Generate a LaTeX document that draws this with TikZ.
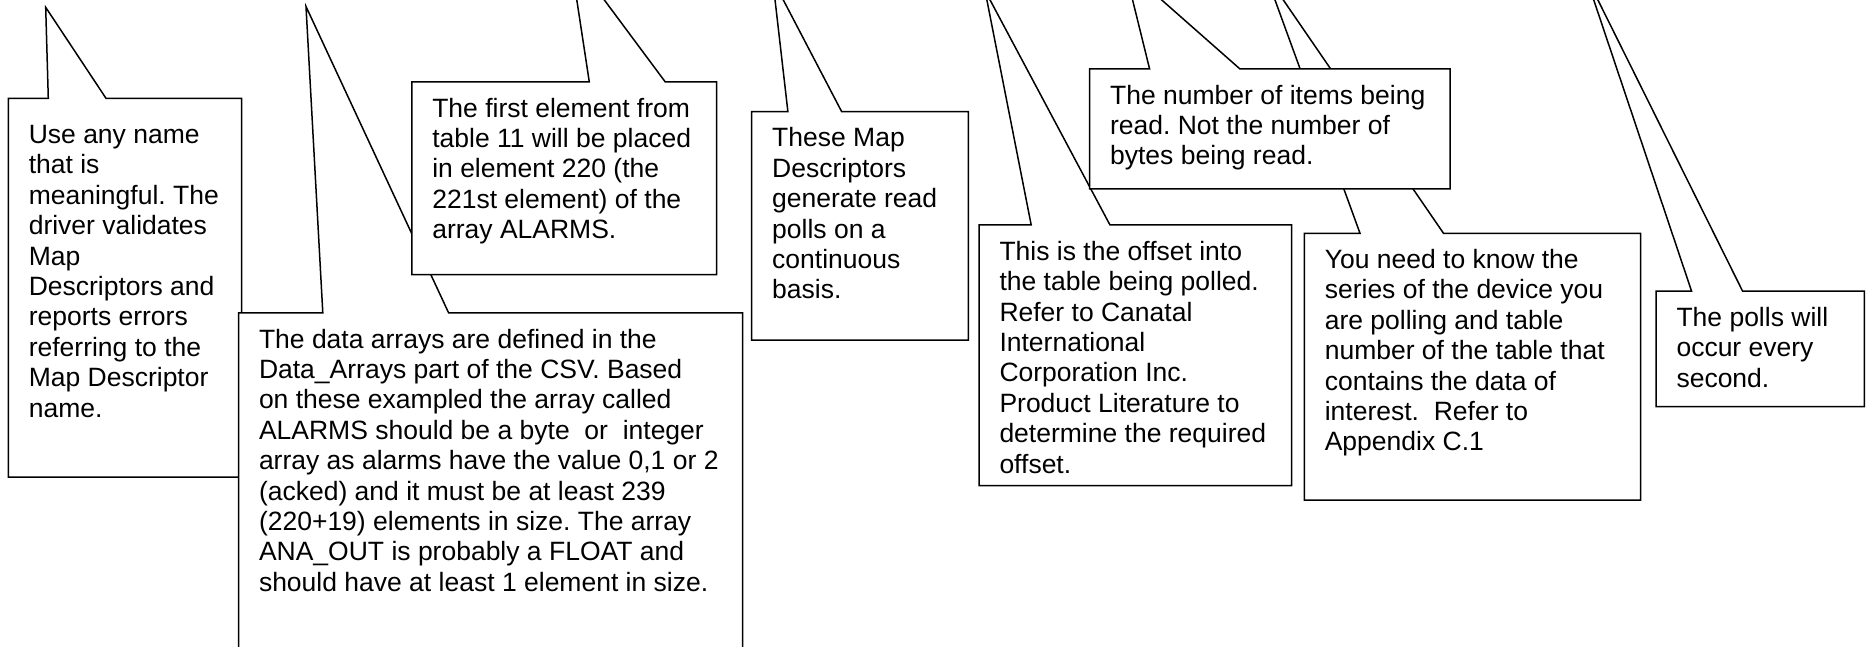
\documentclass[tikz,border=0pt]{standalone}
\usepackage{fontspec}
\setmainfont{Liberation Sans}
\frenchspacing
\begin{document}
\begin{tikzpicture}[x=1pt,y=-1pt,
  cbox/.style={draw=black,fill=white,line width=1.5pt,line join=miter},
  txt/.style={anchor=north west,inner sep=0pt,align=left,
    font=\frenchspacing\fontsize{26.5}{30.4}\selectfont}]
\newcommand\callout[8]{%
  \draw[cbox] (#1,#2) -- (#5,#2) -- (#7,#8) -- (#6,#2) -- (#3,#2) -- (#3,#4) -- (#1,#4) -- cycle;}
\newcommand\strt{\rule{0pt}{22pt}}
\useasboundingbox (0,0) rectangle (1866,647);
\clip (0,0) rectangle (1866,647);
\fill[white] (0,0) rectangle (1866,647);
% 1
\callout{8.3}{98.3}{241.7}{477}{48.3}{106}{45.7}{7.3}
\node[txt] (t1) at (28.6,121.3) {\strt Use any name\\that is\\meaningful. The\\driver validates\\Map\\Descriptors and\\reports errors\\referring to the\\Map Descriptor\\name.};
% 2
\callout{238.5}{312.8}{742.5}{700}{322.8}{448.6}{306}{6.5}
\node[txt] (t2) at (258.8,325.8) {\strt The data arrays are defined in the\\Data\_Arrays part of the CSV. Based\\on these exampled the array called\\ALARMS should be a byte~ or~ integer\\array as alarms have the value 0,1 or 2\\(acked) and it must be at least 239\\(220+19) elements in size. The array\\ANA\_OUT is probably a FLOAT and\\should have at least 1 element in size.};
% 3
\callout{411.8}{82}{716.5}{274.5}{589.3}{665.3}{569.7}{-46.6}
\node[txt] (t3) at (432.1,95) {\strt The first element from\\table 11 will be placed\\in element 220 (the\\221st element) of the\\array ALARMS.};
% 4
\callout{751.7}{111.7}{968.3}{340}{787.9}{841.7}{772.7}{-20.3}
\node[txt] (t4) at (772,124.7) {\strt These Map\\Descriptors\\generate read\\polls on a\\continuous\\basis.};
% 5
\callout{979}{225}{1291.5}{485.5}{1031.2}{1110}{985}{-9.5}
\node[txt] (t5) at (999.3,238) {\strt This is the offset into\\the table being polled.\\Refer to Canatal\\International\\Corporation Inc.\\Product Literature to\\determine the required\\offset.};
% 7
\callout{1304.3}{233.3}{1640.5}{500}{1360}{1443.5}{1265.6}{-25.8}
\node[txt] (t7) at (1324.6,246.3) {\strt You need to know the\\series of the device you\\are polling and table\\number of the table that\\contains the data of\\interest.~ Refer to\\Appendix C.1};
% 6
\callout{1089.6}{69}{1450}{189}{1149.6}{1240}{1124.5}{-32.8}
\node[txt] (t6) at (1109.9,82) {\strt The number of items being\\read. Not the number of\\bytes being read.};
% 8
\callout{1656}{291}{1864.3}{406.7}{1691.5}{1742.5}{1585}{-26}
\node[txt] (t8) at (1676.3,304) {\strt The polls will\\occur every\\second.};
\end{tikzpicture}
\end{document}
